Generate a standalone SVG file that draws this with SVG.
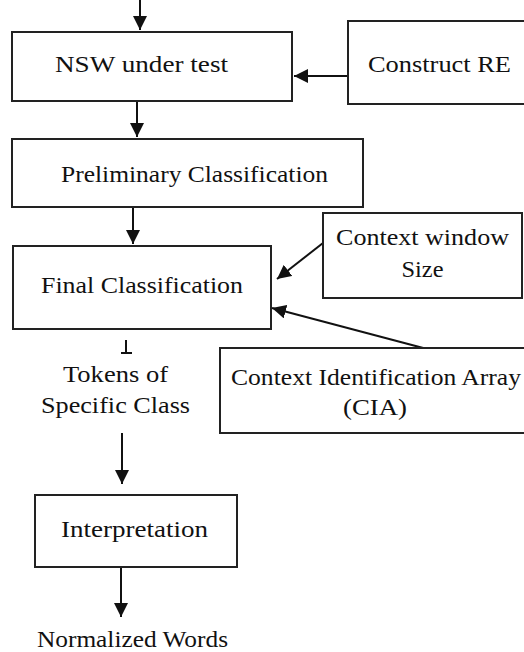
<svg xmlns="http://www.w3.org/2000/svg" width="524" height="652" viewBox="0 0 524 652">
  <style>
    .box { fill: #ffffff; stroke: #222222; stroke-width: 2; }
    .lbl { font-family: "Liberation Serif", "DejaVu Serif", serif; font-size: 24px; fill: #111111; text-anchor: middle; }
    .edge { fill: none; stroke: #111111; stroke-width: 2; }
    .arrow { marker-end: url(#head); }
  </style>
  <defs>
    <marker id="head" viewBox="0 0 14 14" refX="14" refY="7" markerWidth="14" markerHeight="14" markerUnits="userSpaceOnUse" orient="auto">
      <path d="M0,0 L14,7 L0,14 Z" fill="#111111"/>
    </marker>
  </defs>

  <rect width="524" height="652" fill="#ffffff"/>

  <!-- connectors -->
  <g id="connectors">
    <line class="edge arrow" x1="140" y1="0" x2="140" y2="30"/>
    <line class="edge arrow" x1="348" y1="76" x2="294" y2="76"/>
    <line class="edge arrow" x1="137" y1="101" x2="137" y2="137"/>
    <line class="edge arrow" x1="133" y1="207" x2="133" y2="244"/>
    <line class="edge arrow" x1="323" y1="243" x2="277" y2="279"/>
    <line class="edge arrow" x1="427" y1="349" x2="272" y2="308"/>
    <!-- terminator below Final Classification -->
    <line class="edge" x1="126" y1="340" x2="126" y2="353"/>
    <line class="edge" x1="121" y1="353" x2="132" y2="353"/>
    <line class="edge arrow" x1="122" y1="433" x2="122" y2="484"/>
    <line class="edge arrow" x1="121" y1="567" x2="121" y2="617"/>
  </g>

  <g id="nsw">
    <rect class="box" x="12" y="32" width="280" height="69"/>
    <text class="lbl" x="141.5" y="72" textLength="173" lengthAdjust="spacingAndGlyphs">NSW under test</text>
  </g>

  <g id="construct-re">
    <rect class="box" x="348" y="21" width="190" height="83"/>
    <text class="lbl" x="439.5" y="72" textLength="143" lengthAdjust="spacingAndGlyphs">Construct RE</text>
  </g>

  <g id="preliminary">
    <rect class="box" x="12" y="139" width="351" height="68"/>
    <text class="lbl" x="194.5" y="182" textLength="267" lengthAdjust="spacingAndGlyphs">Preliminary Classification</text>
  </g>

  <g id="final">
    <rect class="box" x="13" y="246" width="258" height="83"/>
    <text class="lbl" x="142" y="293" textLength="202" lengthAdjust="spacingAndGlyphs">Final Classification</text>
  </g>

  <g id="context-window">
    <rect class="box" x="323" y="213" width="199" height="85"/>
    <text class="lbl" x="422.5" y="245" textLength="173" lengthAdjust="spacingAndGlyphs">Context window</text>
    <text class="lbl" x="422.5" y="277" textLength="42" lengthAdjust="spacingAndGlyphs">Size</text>
  </g>

  <g id="cia">
    <rect class="box" x="220" y="348" width="320" height="85"/>
    <text class="lbl" x="376" y="385" textLength="290" lengthAdjust="spacingAndGlyphs">Context Identification Array</text>
    <text class="lbl" x="375" y="415" textLength="64" lengthAdjust="spacingAndGlyphs">(CIA)</text>
  </g>

  <g id="tokens">
    <text class="lbl" x="115.5" y="382" textLength="105" lengthAdjust="spacingAndGlyphs">Tokens of</text>
    <text class="lbl" x="115.5" y="413" textLength="149" lengthAdjust="spacingAndGlyphs">Specific Class</text>
  </g>

  <g id="interpretation">
    <rect class="box" x="35" y="495" width="202" height="72"/>
    <text class="lbl" x="134.5" y="537" textLength="147" lengthAdjust="spacingAndGlyphs">Interpretation</text>
  </g>

  <g id="normalized">
    <text class="lbl" x="132.5" y="647" textLength="191" lengthAdjust="spacingAndGlyphs">Normalized Words</text>
  </g>
</svg>
